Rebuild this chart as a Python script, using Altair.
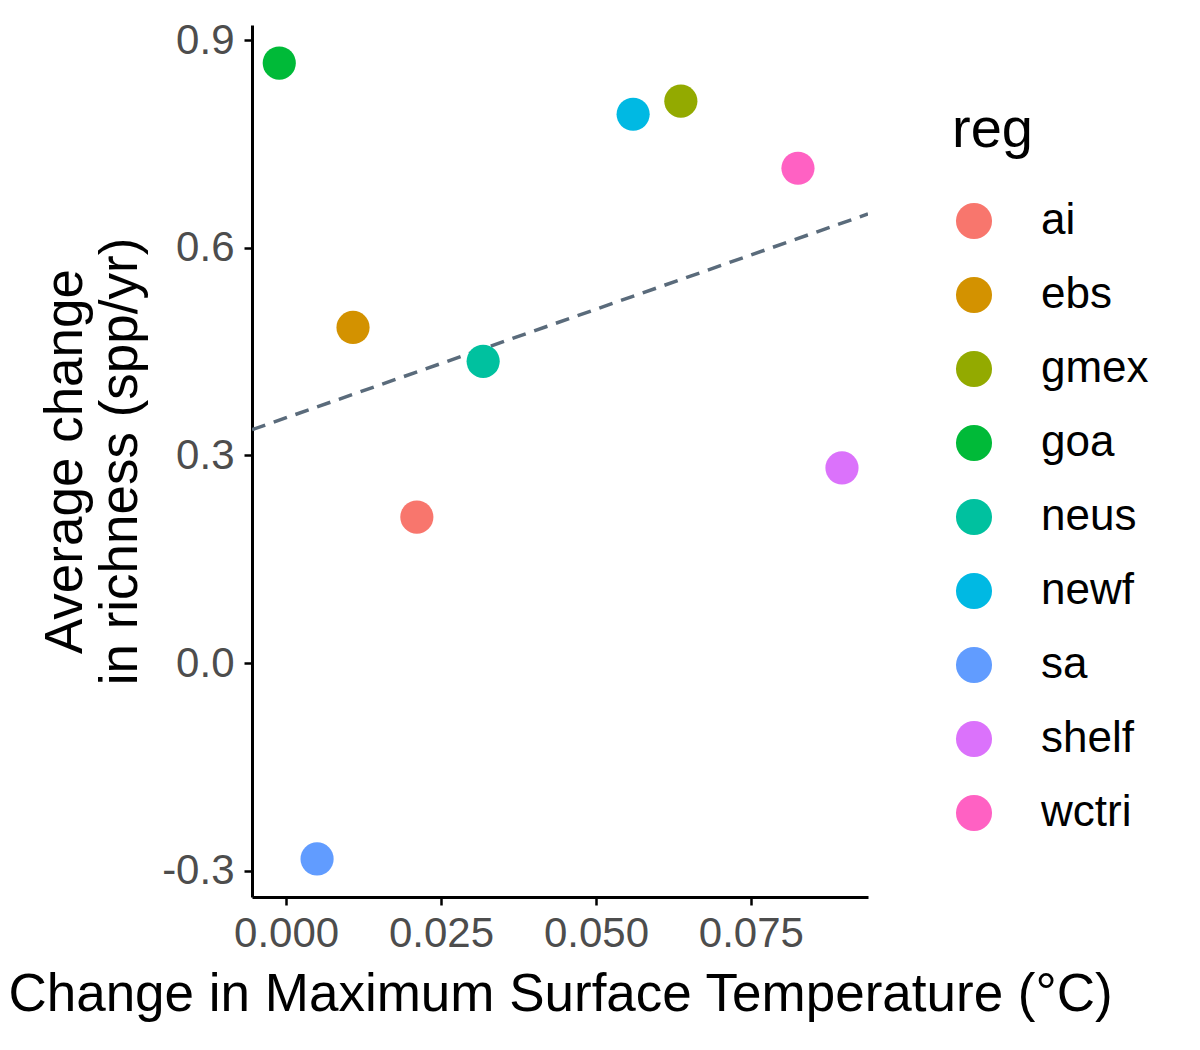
import pandas as pd
import altair as alt

# ── Data ──────────────────────────────────────────────────────────────────────
regions = ["ai", "ebs", "gmex", "goa", "neus", "newf", "sa", "shelf", "wctri"]
temp_change = [0.0211, 0.0108, 0.0637, -0.0011, 0.0318, 0.0560, 0.0050, 0.0897, 0.0826]
rich_change = [0.211, 0.485, 0.812, 0.867, 0.436, 0.793, -0.283, 0.282, 0.715]
colors = ["#F8766D", "#D39200", "#93AA00", "#00BA38", "#00C19F",
          "#00B9E3", "#619CFF", "#DB72FB", "#FF61C3"]

df = pd.DataFrame({"reg": regions, "temp": temp_change, "rich": rich_change})

x_dom = [-0.0055, 0.0939]
y_dom = [-0.338, 0.922]

font = "Liberation Sans"

x_enc = alt.X(
    "temp:Q",
    title="Change in Maximum Surface Temperature (°C)",
    scale=alt.Scale(domain=x_dom, nice=False, zero=False),
    axis=alt.Axis(values=[0, 0.025, 0.05, 0.075], format=".3f", labelPadding=8),
)
y_enc = alt.Y(
    "rich:Q",
    title=["Average change", "in richness (spp/yr)"],
    scale=alt.Scale(domain=y_dom, nice=False, zero=False),
    axis=alt.Axis(
        values=[-0.3, 0, 0.3, 0.6, 0.9],
        labelExpr="datum.value < 0 ? '-' + format(-datum.value, '.1f') : format(datum.value, '.1f')",
        labelPadding=10,
    ),
)

points = alt.Chart(df).mark_circle(size=1100, opacity=1).encode(
    x=x_enc,
    y=y_enc,
    color=alt.Color(
        "reg:N",
        title="reg",
        scale=alt.Scale(domain=regions, range=colors),
        legend=alt.Legend(
            orient="none",
            legendX=700,
            legendY=78,
            symbolType="circle",
            symbolSize=1300,
            symbolStrokeWidth=0,
            titleFontSize=56,
            titleFontWeight="normal",
            titleColor="black",
            titlePadding=40,
            labelFontSize=44,
            labelColor="black",
            labelOffset=45,
            rowPadding=30,
        ),
    ),
)

trend = (
    alt.Chart(df)
    .transform_regression("temp", "rich", method="linear", extent=x_dom)
    .mark_line(color="#5a6b7b", strokeWidth=3.5, strokeDash=[14, 9], clip=True)
    .encode(x="temp:Q", y="rich:Q")
)

chart = (
    (trend + points)
    .properties(
        width=616,
        height=872,
        autosize=alt.AutoSizeParams(type="none"),
        padding={"left": 244, "top": 17, "right": 324, "bottom": 130},
    )
    .configure_view(strokeWidth=0)
    .configure_axis(
        grid=False,
        domainColor="black",
        domainWidth=3,
        tickColor="black",
        tickWidth=2.5,
        tickSize=8,
        labelFont=font,
        titleFont=font,
        labelFontSize=42,
        labelColor="#4d4d4d",
        titleFontSize=53,
        titleFontWeight="normal",
        titleColor="black",
    )
    .configure_axisX(titlePadding=14)
    .configure_axisY(titlePadding=14)
    .configure_legend(labelFont=font, titleFont=font)
)

chart.save("out.html", embed_options={"renderer": "svg", "actions": False})
